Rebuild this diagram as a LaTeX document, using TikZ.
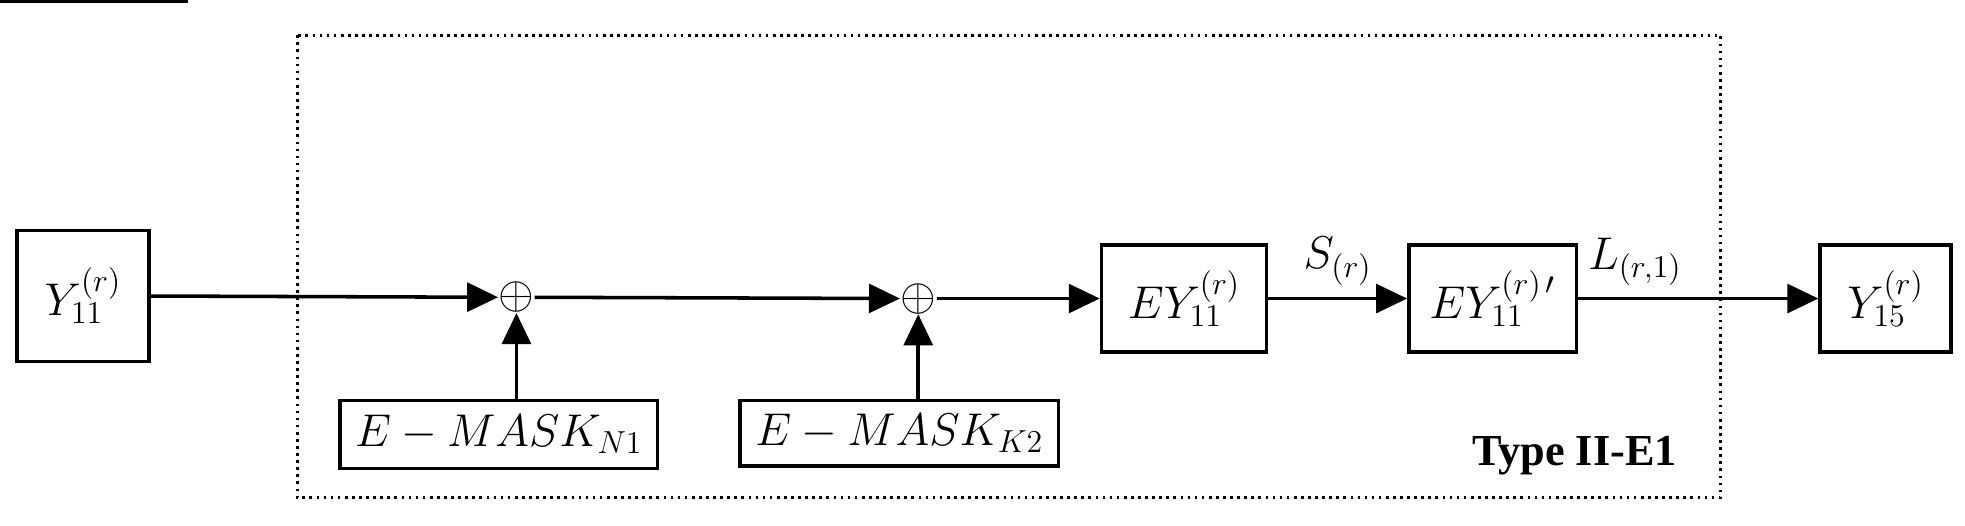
\documentclass[tikz,border=0pt]{standalone}
\usepackage{fontspec}
\newfontfamily\tnr{Liberation Serif}
\usetikzlibrary{arrows.meta}
\begin{document}
\begin{tikzpicture}[x=0.02cm,y=-0.02cm,
  box/.style={draw,line width=1.6pt,inner sep=0pt,font=\fontsize{22}{26}\selectfont},
  arr/.style={line width=1.6pt,-{Triangle[length=14pt,width=13pt]}},
  lab/.style={font=\fontsize{22}{26}\selectfont}]
\useasboundingbox (0,0) rectangle (1560,417);
\draw[dotted,line width=1.2pt] (236,28) rectangle (1366,395);
\node[box,minimum width=105\pgflinewidth,text width=0pt] at (0,0) {};
\node[box,minimum width=2.1cm,minimum height=2.08cm] (y11) at (66,235) {$Y_{11}^{(r)}$};
\node[lab,inner sep=0pt] (p1) at (410,236) {$\oplus$};
\node[lab,inner sep=0pt] (p2) at (729,237) {$\oplus$};
\node[box,minimum width=2.62cm,minimum height=1.7cm] (ey) at (940,237) {$EY_{11}^{(r)}$};
\node[box,minimum width=2.66cm,minimum height=1.7cm] (eyp) at (1185,237) {$EY_{11}^{(r)\,\prime}$};
\node[box,minimum width=2.08cm,minimum height=1.7cm] (y15) at (1497,237) {$Y_{15}^{(r)}$};
\node[box,minimum width=5.04cm,minimum height=1.08cm] (m1) at (396,345) {$E-MASK_{N1}$};
\node[box,minimum width=5.06cm,minimum height=1.04cm] (m2) at (714,344) {$E-MASK_{K2}$};
\draw[arr] (y11.east) -- (p1.west);
\draw[arr] (p1.east) -- (p2.west);
\draw[arr] (p2.east) -- (ey.west);
\draw[arr] (ey.east) -- node[lab,above=2pt] {$S_{(r)}$} (eyp.west);
\draw[arr] (eyp.east) -- (y15.west);
\node[lab] (L) at (1298,208) {$L_{(r,1)}$};
\draw[arr] (m1.north -| p1) -- (p1.south);
\draw[arr] (m2.north -| p2) -- (p2.south);
\node[font=\tnr\bfseries\fontsize{20}{24}\selectfont] (t) at (1250,362) {Type II-E1};
\end{tikzpicture}
\end{document}
